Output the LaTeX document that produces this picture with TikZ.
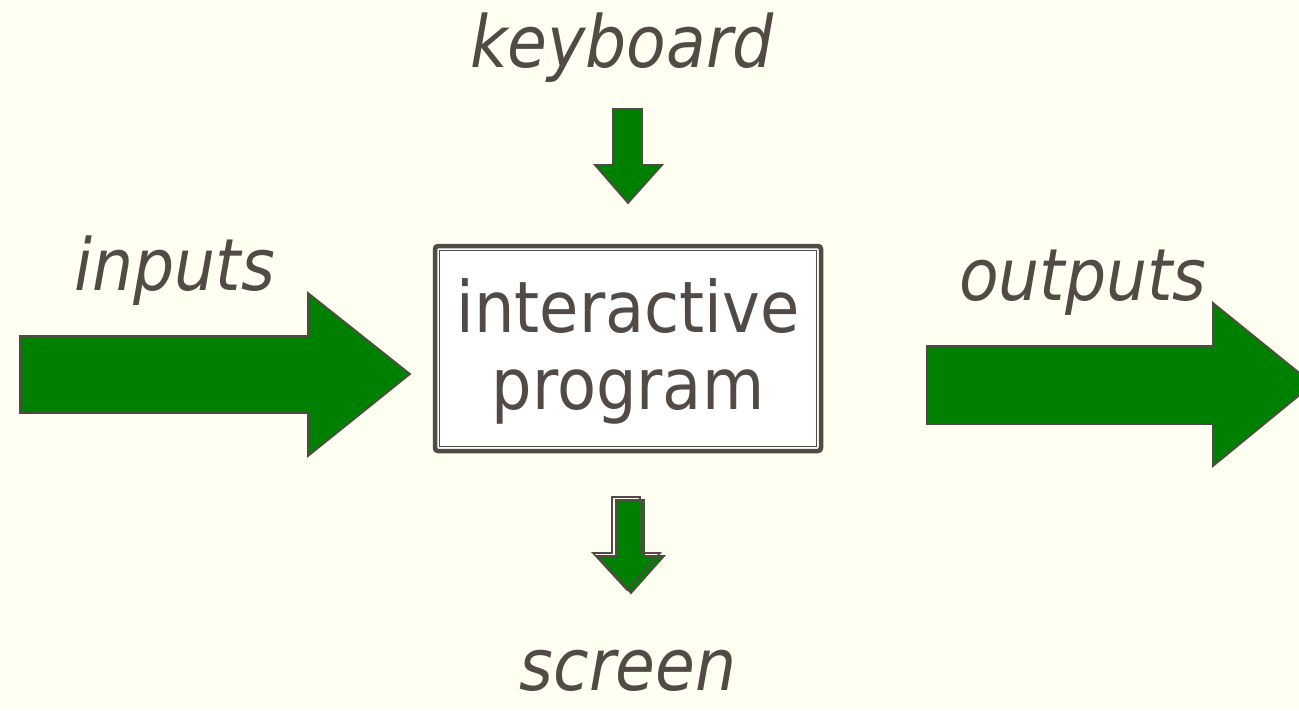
\documentclass[tikz,border=0pt]{standalone}
\usepackage{fontspec}
\setmainfont{DejaVu Sans Condensed}
\usetikzlibrary{calc}
\definecolor{bg}{HTML}{FFFFF2}
\definecolor{ink}{HTML}{524A45}
\definecolor{arrowgreen}{HTML}{008000}
\begin{document}
\begin{tikzpicture}[x=1pt,y=-1pt,
  blockarrow/.style={fill=arrowgreen, draw=ink, line width=1.8pt, line join=miter},
  ghost/.style={draw=ink, line width=1.6pt, line join=miter},
  lbl/.style={font=\fontsize{72}{84}\selectfont\itshape, text=ink, inner sep=0pt, anchor=base},
  progbox/.style={draw=ink, line width=4.5pt, rounded corners=3pt, fill=white, minimum width=386pt, minimum height=205pt, inner sep=0pt},
  innerframe/.style={draw=ink, line width=1.3pt},
  boxtext/.style={font=\fontsize{71}{77}\selectfont, text=ink, align=center, inner sep=0pt}
]
\useasboundingbox (0,0) rectangle (1299,710);
\clip (0,0) rectangle (1299,710);
\fill[bg] (0,0) rectangle (1299,710);

% labels
\node[lbl] (keyboard) at (622,67) {keyboard};
\node[lbl] (inputs) at (175,290) {inputs};
\node[lbl] (outputs) at (1083,300) {outputs};
\node[lbl] (screen) at (628,690) {screen};

% program box
\node[progbox] (prog) at (628,348.5) {};
\draw[innerframe] ($(prog.north west)+(6.5,6.5)$) rectangle ($(prog.south east)+(-6.5,-6.5)$);
\node[boxtext] (progtext) at (628,351) {interactive\\program};

% input arrow
\draw[blockarrow] (20,336) -- (308,336) -- (308,293) -- (410,374) -- (308,456) -- (308,413) -- (20,413) -- cycle;
% output arrow
\draw[blockarrow] (927,346) -- (1213,346) -- (1213,303) -- (1313,384) -- (1213,466) -- (1213,424) -- (927,424) -- cycle;
% keyboard arrow
\draw[blockarrow] (613,109) -- (642,109) -- (642,165) -- (662,165) -- (628,203) -- (595,165) -- (613,165) -- cycle;
% screen arrow
\draw[blockarrow] (616,500) -- (644,500) -- (644,556) -- (664,556) -- (631,593) -- (597,556) -- (616,556) -- cycle;
\draw[ghost] (612,497) -- (640,497) -- (640,553) -- (660,553) -- (627,590) -- (593,553) -- (612,553) -- cycle;
\end{tikzpicture}
\end{document}
